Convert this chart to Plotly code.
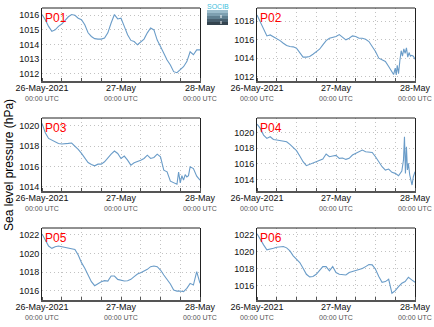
import pandas as pd
import plotly.graph_objects as go

# ---------------- data (hPa, hourly from 26-May-2021 00:00 UTC) ----------------
hours = list(range(49))

p01 = [1016.05, 1015.7, 1015.24, 1014.9, 1015.0, 1015.24, 1015.4, 1015.65, 1015.9, 1016.05,
       1016.0, 1015.8, 1015.7, 1015.35, 1014.8, 1014.55, 1014.4, 1014.37, 1014.37, 1014.44,
       1014.8, 1015.47, 1016.05, 1015.75, 1015.8, 1015.24, 1014.67, 1014.28, 1014.2, 1013.98,
       1014.2, 1014.37, 1014.8, 1015.13, 1015.0, 1014.3, 1013.86, 1013.4, 1012.94, 1012.6,
       1012.14, 1012.07, 1012.3, 1012.48, 1012.83, 1013.5, 1013.3, 1013.63, 1013.63]

p02_hours = list(range(41)) + [41, 41.5, 42, 42.3, 42.6, 43, 43.4, 43.8, 44.2, 44.6, 45, 45.4,
                               45.8, 46.2, 46.6, 47, 47.5, 48]
p02 = [1018.69, 1017.96, 1017.06, 1016.41, 1016.52, 1016.34, 1016.16, 1015.9, 1015.61, 1015.36,
       1015.25, 1015.22, 1015.07, 1014.53, 1014.1, 1014.1, 1014.17, 1014.42, 1014.71, 1014.96,
       1015.43, 1015.9, 1016.16, 1016.27, 1016.34, 1016.55, 1016.27, 1015.98, 1016.16, 1016.41,
       1016.34, 1016.16, 1016.16, 1016.05, 1015.8, 1015.25, 1014.71, 1013.99, 1013.81, 1013.63,
       1013.08,
       1012.54, 1012.2, 1012.9, 1012.15, 1013.2, 1012.3, 1013.7, 1014.8, 1014.2, 1015.0, 1014.5,
       1015.1, 1014.1, 1014.6, 1014.2, 1014.3, 1014.2, 1013.88]

p03_hours = list(range(37)) + [37, 38, 39, 40, 41, 41.5, 42, 42.5, 43, 43.5, 44, 44.5, 45, 46, 47, 48]
p03 = [1020.23, 1019.31, 1018.75, 1018.59, 1018.36, 1018.26, 1018.2, 1018.2, 1018.26, 1018.3,
       1018.0, 1017.67, 1017.28, 1016.79, 1016.39, 1016.2, 1016.07, 1016.23, 1016.23, 1016.46,
       1016.85, 1017.21, 1017.51, 1017.28, 1016.79, 1017.02, 1016.62, 1016.13, 1016.36, 1016.46,
       1016.62, 1016.79, 1017.11, 1016.79, 1016.89, 1017.21, 1016.95,
       1015.64, 1015.48, 1014.56, 1014.39, 1014.26, 1015.45, 1014.4, 1015.1, 1014.66, 1015.2,
       1014.98, 1015.1, 1015.97, 1015.8, 1015.05, 1014.66]

p04_hours = list(range(45)) + [44.5, 44.8, 45.1, 45.4, 45.7, 46, 46.4, 46.8, 47.1, 47.5, 48]
p04 = [1021.11, 1020.56, 1019.7, 1019.27, 1019.49, 1019.14, 1019.06, 1018.97, 1018.97, 1018.84,
       1018.5, 1018.11, 1017.69, 1017.0, 1016.27, 1015.76, 1015.93, 1016.14, 1016.31, 1016.49,
       1016.61, 1017.26, 1016.91, 1017.0, 1017.09, 1016.7, 1016.74, 1016.57, 1016.7, 1017.13,
       1017.34, 1017.56, 1017.77, 1017.56, 1017.56, 1017.47, 1016.91, 1016.27, 1015.63, 1015.2,
       1015.33, 1014.9, 1014.77, 1014.47, 1015.07,
       1016.49, 1019.49, 1014.77, 1018.2, 1015.2, 1016.06, 1014.56, 1013.7, 1013.27, 1014.34, 1014.98]

p05 = [1022.11, 1021.53, 1020.81, 1020.56, 1020.74, 1020.81, 1020.74, 1020.67, 1020.56, 1020.49,
       1020.45, 1019.84, 1019.02, 1018.41, 1017.76, 1016.97, 1016.54, 1016.79, 1016.97, 1017.08,
       1017.04, 1017.58, 1017.58, 1017.22, 1017.15, 1017.04, 1017.08, 1017.22, 1017.51, 1017.8,
       1017.94, 1018.08, 1018.3, 1018.59, 1018.66, 1018.59, 1018.23, 1017.69, 1017.22, 1016.72,
       1016.07, 1015.96, 1015.96, 1015.89, 1016.25, 1016.79, 1016.61, 1018.05, 1016.79]

p06 = [1022.12, 1021.41, 1020.82, 1020.24, 1020.31, 1020.43, 1020.55, 1020.63, 1020.63, 1020.47,
       1020.12, 1019.53, 1019.14, 1018.75, 1018.08, 1017.37, 1017.06, 1017.1, 1017.37, 1017.76,
       1018.27, 1018.27, 1017.76, 1018.27, 1017.57, 1017.37, 1017.33, 1017.29, 1017.57, 1017.69,
       1017.8, 1017.92, 1018.04, 1018.27, 1018.51, 1018.47, 1017.96, 1017.1, 1016.43, 1016.51,
       1016.78, 1015.14, 1015.45, 1015.92, 1016.31, 1016.51, 1017.02, 1016.71, 1016.43]

station_names = ["P01", "P02", "P03", "P04", "P05", "P06"]
series_hours = [hours, p02_hours, p03_hours, p04_hours, hours, hours]
series_values = [p01, p02, p03, p04, p05, p06]
y_ranges = [[1011.5, 1016.5], [1011.5, 1019.45], [1013.6, 1020.75],
            [1012.5, 1021.9], [1015.0, 1022.75], [1014.35, 1022.8]]
y_dticks = [1, 2, 2, 2, 2, 2]

tick_hours = [0, 24, 48]
tick_main = ["26-May-2021", "27-May", "28-May"]
tick_sub = "00:00 UTC"
start = pd.Timestamp("2021-05-26 00:00")

# ---------------- layout geometry (pixels of the 434x327 figure) ----------------
W, H = 434, 327
col_px = [(42, 200), (257, 415)]
row_px = [(8, 81), (118, 191), (228, 300)]
FONT = "Liberation Sans, Arial, sans-serif"
LINE_COLOR = "#6a9cc8"
GRID = "#c2c2c2"
GRID_DASH = "1px,3px"

def to_time(hs):
    return [start + pd.Timedelta(hours=h) for h in hs]

fig = go.Figure()
layout = dict(
    width=W, height=H, margin=dict(l=0, r=0, t=0, b=0, autoexpand=False),
    paper_bgcolor="white", plot_bgcolor="white", showlegend=False,
    font=dict(family=FONT, size=9, color="black"),
)
annotations = []
shapes = []
ticktext = [f"<span style='font-size:9px;color:#111'>{m}</span><br>{tick_sub}" for m in tick_main]
tickvals = to_time(tick_hours)

for i in range(6):
    r, c = divmod(i, 2)
    x0, x1 = col_px[c]
    ytop, ybot = row_px[r]
    xa = f"xaxis{i+1}" if i else "xaxis"
    ya = f"yaxis{i+1}" if i else "yaxis"
    xs = f"x{i+1}" if i else "x"
    ys = f"y{i+1}" if i else "y"
    fig.add_trace(go.Scatter(x=to_time(series_hours[i]), y=series_values[i], mode="lines",
                             line=dict(color=LINE_COLOR, width=1.1), xaxis=xs, yaxis=ys))
    layout[xa] = dict(
        domain=[x0 / W, x1 / W], anchor=ys, type="date", automargin=False,
        range=[start, start + pd.Timedelta(hours=48)],
        tickvals=tickvals, ticktext=ticktext, ticks="", tickfont=dict(size=7, color="#555", family=FONT),
        showline=True, linecolor="#555", linewidth=2, mirror=False,
        showgrid=True, gridcolor=GRID, griddash=GRID_DASH, gridwidth=1,
        minor=dict(dtick=6 * 3600 * 1000, tick0=start, showgrid=True, gridcolor=GRID, griddash=GRID_DASH,
                   ticks="inside", ticklen=3, tickcolor="#555"),
        zeroline=False, fixedrange=True,
    )
    layout[ya] = dict(
        domain=[1 - ybot / H, 1 - ytop / H], anchor=xs, range=y_ranges[i], automargin=False,
        dtick=y_dticks[i], tickformat="d", ticks="", tickfont=dict(size=9, color="#111", family=FONT),
        showline=True, linecolor="#222", linewidth=1, mirror=True,
        showgrid=True, gridcolor=GRID, griddash=GRID_DASH, gridwidth=1,
        zeroline=False, fixedrange=True,
    )
    shapes.append(dict(type="line", xref=f"{xs} domain", yref=f"{ys} domain", x0=0, x1=1, y0=1, y1=1,
                       line=dict(color="#222", width=1)))
    annotations.append(dict(text=station_names[i], x=(x0 + 1) / W, y=1 - (ytop + 1) / H,
                            xref="paper", yref="paper", xanchor="left", yanchor="top",
                            showarrow=False, font=dict(size=12, color="#ff0000", family=FONT)))

annotations.append(dict(text="Sea level pressure (hPa)", textangle=-90, x=9 / W, y=1 - 165 / H,
                        xref="paper", yref="paper", xanchor="center", yanchor="middle",
                        showarrow=False, font=dict(size=12, color="black", family=FONT)))
annotations.append(dict(text="SOCIB", x=217.5 / W, y=1 - 6 / H, xref="paper", yref="paper",
                        xanchor="center", yanchor="middle", showarrow=False,
                        font=dict(size=7, color="#3cc0dc", family=FONT)))

logo_cols = ["#9bbccb", "#7d9fb0", "#5f7f90", "#485f6e", "#34444f"]
for k, col in enumerate(logo_cols):
    y_a = 10 + k * 3
    shapes.append(dict(type="rect", xref="paper", yref="paper", x0=207 / W, x1=228 / W,
                       y0=1 - (y_a + 3) / H, y1=1 - y_a / H, fillcolor=col, line=dict(width=0),
                       layer="above"))
shapes.append(dict(type="line", xref="paper", yref="paper", x0=221 / W, x1=221 / W,
                   y0=1 - 24 / H, y1=1 - 12 / H, line=dict(color="white", width=1, dash="dot")))

layout["annotations"] = annotations
layout["shapes"] = shapes
fig.update_layout(**layout)
fig.write_html("out.html")
